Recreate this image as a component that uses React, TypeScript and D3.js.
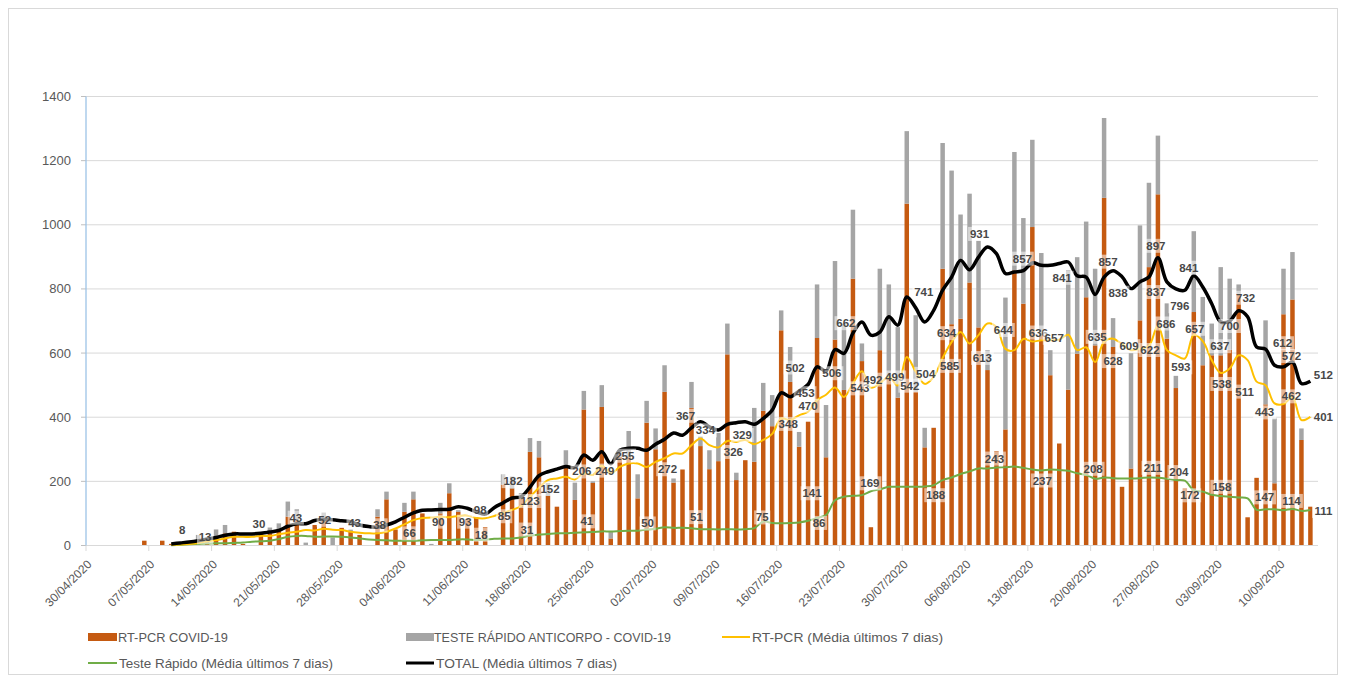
import * as d3 from "d3";

// one category per day, 30/04/2020 .. 13/09/2020
const dayCount = 137;
const tickLabels = [
  "30/04/2020", "07/05/2020", "14/05/2020", "21/05/2020", "28/05/2020",
  "04/06/2020", "11/06/2020", "18/06/2020", "25/06/2020", "02/07/2020",
  "09/07/2020", "16/07/2020", "23/07/2020", "30/07/2020", "06/08/2020",
  "13/08/2020", "20/08/2020", "27/08/2020", "03/09/2020", "10/09/2020"
];

// daily bars
const rtPcr = [
  0, 0, 0, 0, 0, 0, 15, 0, 15, 5,
  6, 4, 12, 10, 27, 38, 43, 5, 0, 40,
  38, 48, 90, 79, 0, 64, 80, 0, 55, 45,
  33, 0, 90, 144, 50, 105, 144, 100, 0, 100,
  163, 105, 82, 88, 57, 0, 190, 178, 145, 292,
  275, 155, 121, 246, 142, 424, 195, 432, 22, 277,
  277, 147, 383, 300, 479, 196, 237, 429, 310, 238,
  263, 596, 204, 266, 261, 420, 372, 671, 510, 308,
  386, 647, 275, 642, 485, 832, 575, 57, 609, 520,
  461, 1066, 480, 306, 367, 863, 690, 707, 820, 680,
  547, 294, 362, 858, 754, 993, 656, 531, 318, 486,
  598, 774, 624, 1084, 619, 183, 240, 702, 868, 1095,
  645, 491, 178, 728, 562, 593, 593, 610, 785, 88,
  211, 440, 194, 721, 767, 329, 121
];
const testeRapido = [
  0, 0, 0, 0, 0, 0, 0, 0, 0, 0,
  0, 0, 21, 12, 23, 26, 0, 0, 0, 0,
  18, 21, 47, 34, 9, 0, 22, 25, 0, 5,
  0, 0, 23, 24, 0, 28, 24, 0, 5, 33,
  31, 5, 0, 0, 0, 0, 32, 37, 18, 43,
  51, 40, 0, 51, 54, 58, 5, 68, 20, 13,
  80, 75, 68, 65, 83, 13, 0, 81, 30, 59,
  88, 96, 23, 0, 168, 87, 97, 62, 109, 46,
  0, 167, 163, 245, 205, 215, 55, 0, 254, 294,
  220, 226, 238, 61, 0, 392, 479, 325, 277, 270,
  62, 0, 411, 369, 267, 272, 256, 78, 0, 372,
  301, 236, 239, 249, 90, 0, 360, 296, 263, 183,
  110, 38, 0, 252, 213, 99, 275, 222, 29, 0,
  0, 262, 202, 142, 148, 36, 0
];

// 7-day averages, starting at day 9 (09/05)
const avgStart = 9;
const rtPcrAvg = [
  2, 3, 5, 8, 13, 17, 22, 27, 27, 27,
  30, 30, 35, 40, 43, 48, 47, 52, 49, 48,
  43, 40, 38, 38, 43, 53, 66, 79, 86, 87,
  90, 88, 92, 93, 86, 85, 92, 102, 111, 123,
  152, 180, 204, 209, 214, 206, 225, 220, 249, 225,
  245, 256, 256, 245, 261, 272, 287, 287, 313, 334,
  313, 306, 326, 323, 329, 316, 329, 348, 396, 391,
  406, 417, 453, 470, 493, 463, 506, 543, 492, 505,
  526, 499, 588, 542, 504, 526, 585, 634, 666, 630,
  656, 692, 681, 613, 609, 644, 636, 640, 640, 642,
  657, 609, 618, 572, 635, 645, 628, 609, 614, 622,
  686, 609, 593, 583, 657, 637, 578, 538, 552, 593,
  578, 511, 500, 443, 441, 462, 391, 401
];
const rapidoAvg = [
  1, 2, 4, 5, 6, 7, 7, 8, 9, 12,
  13, 15, 20, 27, 30, 30, 27, 28, 28, 27,
  25, 22, 19, 17, 16, 15, 15, 15, 16, 17,
  17, 17, 19, 19, 17, 18, 21, 22, 22, 25,
  31, 34, 36, 38, 38, 40, 41, 42, 44, 44,
  45, 46, 46, 50, 52, 57, 55, 55, 54, 51,
  51, 50, 51, 50, 51, 54, 75, 70, 69, 70,
  72, 77, 86, 95, 141, 152, 155, 157, 169, 175,
  183, 183, 183, 183, 184, 188, 204, 212, 223, 231,
  240, 240, 243, 244, 246, 242, 237, 234, 237, 235,
  233, 225, 220, 208, 212, 210, 209, 209, 210, 212,
  211, 208, 204, 202, 172, 168, 158, 154, 152, 150,
  147, 111, 113, 113, 110, 114, 108, 111
];
const totalAvg = [
  5, 8, 11, 15, 20, 25, 32, 36, 36, 36,
  38, 42, 47, 60, 68, 68, 78, 81, 80, 77,
  74, 64, 59, 57, 64, 74, 88, 102, 110, 111,
  112, 113, 121, 116, 105, 98, 118, 133, 148, 152,
  182, 218, 230, 238, 246, 243, 282, 266, 292, 255,
  297, 303, 303, 297, 316, 331, 351, 344, 367, 386,
  370, 360, 378, 383, 386, 378, 396, 422, 476, 464,
  482, 502, 557, 544, 611, 599, 662, 697, 656, 665,
  713, 687, 775, 741, 697, 733, 796, 837, 889, 860,
  899, 931, 910, 848, 853, 857, 881, 874, 874, 879,
  884, 841, 837, 783, 837, 857, 838, 801, 822, 837,
  897, 822, 800, 796, 841, 806, 754, 697, 700, 732,
  713, 619, 612, 562, 557, 572, 505, 512
];

// which days carry a data label, with the label's offset from its point [day, dx, dy]
const totalLabelDays = [
  [10, 2, -13], [44, -5, -4], [49, -17, -6], [58, 14, -8], [67, -6, -12],
  [80, -13, -17], [85, -7, -10], [92, 8, -16], [100, -8, -13], [104, -1, -12],
  [110, -15, 2], [114, -5, -9], [115, -4, 16], [118, 7, 15], [119, -2, -12],
  [122, -5, 16], [123, -5, -8], [127, 0, 5], [128, 7, -13], [131, 17, -6],
  [134, -1, -6], [136, 13, -6]
];
const pcrLabelDays = [
  [13, -2, -4], [19, -2, -12], [23, -1, -14], [26, 1, -9], [29, 4, -9],
  [32, 2, -8], [35, 5, 9], [39, -2, 5], [42, -2, 6], [44, 19, -2],
  [48, 9, -5], [49, 20, -8], [54, 7, -8], [57, 3, 5], [64, 3, 11],
  [68, 5, -8], [71, 6, 11], [73, -3, -5], [76, 16, -10], [81, -12, -7],
  [82, -18, 11], [85, -21, -10], [86, -2, 17], [87, 2, -8], [90, -3, -8],
  [92, -6, 14], [93, 1, -10], [95, 7, 8], [96, -5, -9], [102, -23, 9],
  [104, -20, -9], [105, 6, -9], [109, -14, 3], [113, -7, -5], [115, -9, 17],
  [116, -2, -4], [118, 1, 4], [119, 8, -2], [121, 5, 12], [123, 1, -6],
  [124, 17, 5], [126, 1, 11], [130, -12, 10], [132, -10, 9], [134, -1, -1],
  [136, 13, 0]
];
const rapidoLabelDays = [
  [44, -4, -5], [49, -3, -6], [55, 3, -11], [62, 1, -6], [68, -4, -12],
  [75, -1, -4], [81, 2, 5], [83, -23, -7], [87, -1, -8], [94, 2, 10],
  [101, -2, -9], [107, -8, 11], [112, -2, -10], [119, -5, -10], [121, 3, -8],
  [123, -4, 5], [125, 10, -8], [129, 17, -1], [134, -1, -8], [136, 13, 1]
];

const ORANGE = "#c55a11";
const GRAY = "#a5a5a5";
const YELLOW = "#ffc000";
const GREEN = "#70ad47";
const TEXT = "#595959";
const NUM_FONT = "'Liberation Sans', Arial, sans-serif";
const LEG_FONT = "'Liberation Sans Narrow', 'Arial Narrow', 'Liberation Sans', sans-serif";

const step = 8.97;
const x = d3
  .scaleBand<number>()
  .domain(d3.range(dayCount))
  .range([86, 86 + step * dayCount])
  .paddingInner(0.5)
  .paddingOuter(0.25);
const y = d3.scaleLinear().domain([0, 1400]).range([545.5, 96.5]);
const cx = (d: number) => (x(d) as number) + x.bandwidth() / 2;
const edge = (d: number) => (x(d) as number) - (x.step() * x.paddingInner()) / 2;

const stacked = d3
  .stack<number>()
  .keys(["pcr", "rapid"])
  .value((d, key) => (key === "pcr" ? rtPcr[d] : testeRapido[d]))(d3.range(dayCount));

const lineOf = (vals: number[]) =>
  d3
    .line<number>()
    .x((_, k) => cx(k + avgStart))
    .y(v => y(v))
    .curve(d3.curveCatmullRom.alpha(0.5))(vals) as string;

const DataLabels = ({ vals, days }: { vals: number[]; days: number[][] }) => (
  <g>
    {days.map(([d, dx, dy]) => {
      const v = vals[d - avgStart];
      const t = String(v);
      const px = cx(d) + dx;
      const py = y(v) + dy;
      const w = t.length * 6.6 + 3;
      return (
        <g key={d + "-" + dx}>
          <rect x={px - w / 2} y={py - 7} width={w} height={14} fill="#fff" opacity={0.55} />
          <text
            x={px}
            y={py}
            dy="0.35em"
            textAnchor="middle"
            fontFamily={NUM_FONT}
            fontSize={11.5}
            fontWeight="bold"
            fill="#484848"
          >
            {t}
          </text>
        </g>
      );
    })}
  </g>
);

export default function App() {
  const yTicks = y.ticks(7);
  return (
    <svg
      width={1346}
      height={681}
      style={{ position: "absolute", left: 0, top: 0, background: "#fff" }}
    >
      <rect x={8.5} y={8.5} width={1329} height={666} fill="#fff" stroke="#d9d9d9" />

      {/* grid */}
      {yTicks.map(t => (
        <g key={t}>
          {t > 0 && <line x1={86} x2={1318} y1={y(t)} y2={y(t)} stroke="#d9d9d9" />}
          <line x1={81} x2={86} y1={y(t)} y2={y(t)} stroke="#bfbfbf" />
          <text
            x={71}
            y={y(t)}
            dy="0.35em"
            textAnchor="end"
            fontFamily={NUM_FONT}
            fontSize={13}
            fill={TEXT}
          >
            {t}
          </text>
        </g>
      ))}

      {/* bars */}
      {stacked.map(layer => (
        <g key={layer.key} fill={layer.key === "pcr" ? ORANGE : GRAY}>
          {layer.map((seg, d) =>
            seg[1] - seg[0] > 0 ? (
              <rect
                key={d}
                x={x(d)}
                width={x.bandwidth()}
                y={y(seg[1])}
                height={y(seg[0]) - y(seg[1])}
              />
            ) : null
          )}
        </g>
      ))}

      {/* axes */}
      <line x1={86} x2={1318} y1={545.5} y2={545.5} stroke="#d9d9d9" />
      <line x1={86} x2={86} y1={96.5} y2={545.5} stroke="#9dc3e6" strokeWidth={1.3} />
      {tickLabels.map((lab, k) => {
        const d = k * 7;
        return (
          <g key={lab}>
            <line x1={edge(d)} x2={edge(d)} y1={545.5} y2={551} stroke="#d9d9d9" />
            <text
              transform={`translate(${cx(d) - 1},${562}) rotate(-45)`}
              textAnchor="end"
              dy="0.35em"
              fontFamily={NUM_FONT}
              fontSize={12}
              fill={TEXT}
            >
              {lab}
            </text>
          </g>
        );
      })}

      {/* averages */}
      <path d={lineOf(rapidoAvg)} fill="none" stroke={GREEN} strokeWidth={2} />
      <path d={lineOf(rtPcrAvg)} fill="none" stroke={YELLOW} strokeWidth={2} />
      <path d={lineOf(totalAvg)} fill="none" stroke="#000" strokeWidth={3.5} />

      <DataLabels vals={rapidoAvg} days={rapidoLabelDays} />
      <DataLabels vals={rtPcrAvg} days={pcrLabelDays} />
      <DataLabels vals={totalAvg} days={totalLabelDays} />

      {/* legend */}
      <g fontFamily={LEG_FONT} fontSize={13} fill={TEXT}>
        <rect x={88} y={633} width={29} height={8} fill={ORANGE} />
        <text x={118} y={637} dy="0.35em" textLength={110} lengthAdjust="spacingAndGlyphs">
          RT-PCR COVID-19
        </text>
        <rect x={406} y={633} width={28} height={8} fill={GRAY} />
        <text x={434} y={637} dy="0.35em" textLength={237} lengthAdjust="spacingAndGlyphs">
          TESTE RÁPIDO ANTICORPO - COVID-19
        </text>
        <line x1={722} x2={750} y1={637} y2={637} stroke={YELLOW} strokeWidth={2} />
        <text x={752} y={637} dy="0.35em" textLength={191} lengthAdjust="spacingAndGlyphs">
          RT-PCR (Média últimos 7 dias)
        </text>
        <line x1={88} x2={117} y1={663} y2={663} stroke={GREEN} strokeWidth={2} />
        <text x={119} y={663} dy="0.35em" textLength={214} lengthAdjust="spacingAndGlyphs">
          Teste Rápido (Média últimos 7 dias)
        </text>
        <line x1={406} x2={434} y1={663} y2={663} stroke="#000" strokeWidth={3} />
        <text x={436} y={663} dy="0.35em" textLength={181} lengthAdjust="spacingAndGlyphs">
          TOTAL (Média últimos 7 dias)
        </text>
      </g>
    </svg>
  );
}
